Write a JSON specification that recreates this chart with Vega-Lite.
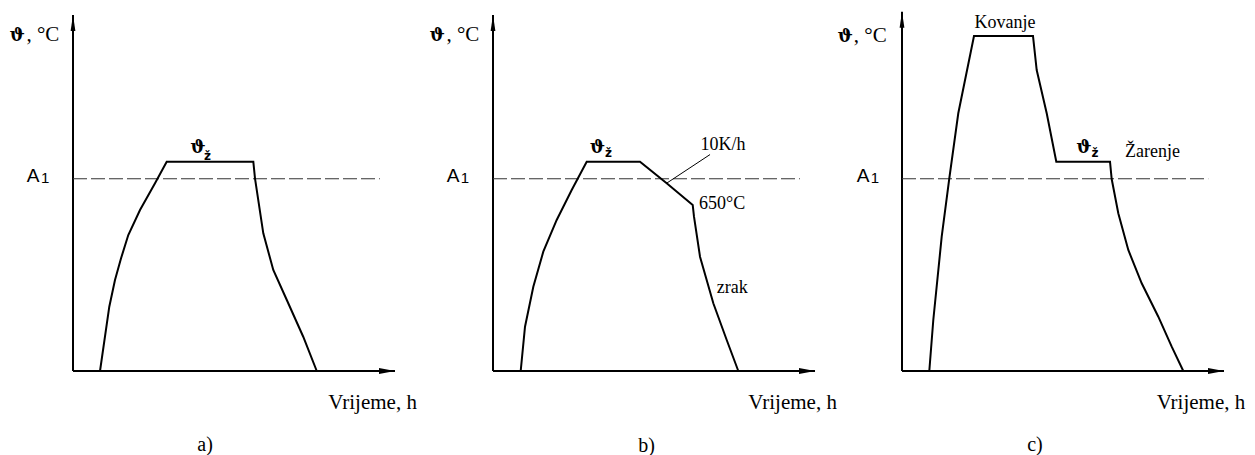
{
"$schema":"https://vega.github.io/schema/vega-lite/v6.json",
"background":"white",
"padding":{"left":9,"top":10,"right":0,"bottom":0},
"bounds":"flush",
"spacing":80,
"config":{"view":{"stroke":null}},
"resolve":{"scale":{"x":"independent","y":"independent","shape":"independent"}},
"datasets":{"rows":[
{"panel":"a","kind":"axis","t":0,"v":0,"t2":0,"v2":100},
{"panel":"a","kind":"axis","t":0,"v":0,"t2":100,"v2":0},
{"panel":"a","kind":"arrow","dir":"up","t":0,"v":100},
{"panel":"a","kind":"arrow","dir":"right","t":100,"v":0},
{"panel":"a","kind":"a1","t":0,"v":54,"t2":95.3,"v2":54},
{"panel":"a","kind":"curve","i":1,"t":8.39,"v":0},
{"panel":"a","kind":"curve","i":2,"t":11.27,"v":18.06},
{"panel":"a","kind":"curve","i":3,"t":13.04,"v":25.56},
{"panel":"a","kind":"curve","i":4,"t":14.9,"v":31.6},
{"panel":"a","kind":"curve","i":5,"t":17.17,"v":38.2},
{"panel":"a","kind":"curve","i":6,"t":20.81,"v":45.22},
{"panel":"a","kind":"curve","i":7,"t":25.47,"v":52.72},
{"panel":"a","kind":"curve","i":8,"t":29.1,"v":58.79},
{"panel":"a","kind":"curve","i":9,"t":56.0,"v":58.79},
{"panel":"a","kind":"curve","i":10,"t":56.52,"v":54.13},
{"panel":"a","kind":"curve","i":11,"t":59.1,"v":38.68},
{"panel":"a","kind":"curve","i":12,"t":62.2,"v":28.37},
{"panel":"a","kind":"curve","i":13,"t":66.4,"v":19.94},
{"panel":"a","kind":"curve","i":14,"t":71.5,"v":9.63},
{"panel":"a","kind":"curve","i":15,"t":75.7,"v":0},
{"panel":"a","kind":"unit","label":", °C","t":-4.25,"v":92.78},
{"panel":"a","kind":"theta","label":"ϑ","t":-15.0,"v":92.78},
{"panel":"a","kind":"A","label":"A","t":-14.38,"v":53.17},
{"panel":"a","kind":"Asub","label":"1","t":-9.9,"v":52.72},
{"panel":"a","kind":"thz","label":"ϑ","t":38.8,"v":61.24},
{"panel":"a","kind":"thzsub","label":"ž","t":41.77,"v":59.27},
{"panel":"a","kind":"xlab","label":"Vrijeme, h","t":79.3,"v":-10.7},
{"panel":"a","kind":"sub","label":"a)","t":41.0,"v":-20.8},
{"panel":"b","kind":"axis","t":0,"v":0,"t2":0,"v2":100},
{"panel":"b","kind":"axis","t":0,"v":0,"t2":100,"v2":0},
{"panel":"b","kind":"arrow","dir":"up","t":0,"v":100},
{"panel":"b","kind":"arrow","dir":"right","t":100,"v":0},
{"panel":"b","kind":"a1","t":0,"v":54,"t2":95.3,"v2":54},
{"panel":"b","kind":"leader","t":67.4,"v":60.8,"t2":54.0,"v2":52.8},
{"panel":"b","kind":"curve","i":1,"t":8.6,"v":0},
{"panel":"b","kind":"curve","i":2,"t":9.94,"v":12.44},
{"panel":"b","kind":"curve","i":3,"t":12.52,"v":23.68},
{"panel":"b","kind":"curve","i":4,"t":15.62,"v":33.51},
{"panel":"b","kind":"curve","i":5,"t":19.78,"v":42.42},
{"panel":"b","kind":"curve","i":6,"t":24.44,"v":50.84},
{"panel":"b","kind":"curve","i":7,"t":29.1,"v":58.79},
{"panel":"b","kind":"curve","i":8,"t":45.65,"v":58.79},
{"panel":"b","kind":"curve","i":9,"t":53.94,"v":52.72},
{"panel":"b","kind":"curve","i":10,"t":62.02,"v":46.63},
{"panel":"b","kind":"curve","i":11,"t":62.42,"v":43.34},
{"panel":"b","kind":"curve","i":12,"t":64.29,"v":32.11},
{"panel":"b","kind":"curve","i":13,"t":68.42,"v":19.02},
{"panel":"b","kind":"curve","i":14,"t":72.58,"v":8.71},
{"panel":"b","kind":"curve","i":15,"t":76.18,"v":0},
{"panel":"b","kind":"unit","label":", °C","t":-4.25,"v":92.78},
{"panel":"b","kind":"theta","label":"ϑ","t":-15.0,"v":92.78},
{"panel":"b","kind":"A","label":"A","t":-14.38,"v":53.17},
{"panel":"b","kind":"Asub","label":"1","t":-10.0,"v":52.72},
{"panel":"b","kind":"thz","label":"ϑ","t":32.45,"v":61.24},
{"panel":"b","kind":"thzsub","label":"ž","t":35.87,"v":60.11},
{"panel":"b","kind":"note","label":"10K/h","t":64.4,"v":62.1},
{"panel":"b","kind":"note","label":"650°C","t":64.0,"v":45.4},
{"panel":"b","kind":"note","label":"zrak","t":69.5,"v":21.8},
{"panel":"b","kind":"xlab","label":"Vrijeme, h","t":79.3,"v":-10.7},
{"panel":"b","kind":"sub","label":"b)","t":47.7,"v":-21.0},
{"panel":"c","kind":"axis","t":0,"v":0,"t2":0,"v2":100.9},
{"panel":"c","kind":"axis","t":0,"v":0,"t2":100,"v2":0},
{"panel":"c","kind":"arrow","dir":"up","t":0,"v":100.9},
{"panel":"c","kind":"arrow","dir":"right","t":100,"v":0},
{"panel":"c","kind":"a1","t":0,"v":54,"t2":95.1,"v2":54},
{"panel":"c","kind":"curve","i":1,"t":8.48,"v":0},
{"panel":"c","kind":"curve","i":2,"t":9.72,"v":14.33},
{"panel":"c","kind":"curve","i":3,"t":12.33,"v":37.72},
{"panel":"c","kind":"curve","i":4,"t":14.69,"v":54.13},
{"panel":"c","kind":"curve","i":5,"t":17.48,"v":72.39},
{"panel":"c","kind":"curve","i":6,"t":22.36,"v":94.1},
{"panel":"c","kind":"curve","i":7,"t":40.68,"v":94.1},
{"panel":"c","kind":"curve","i":8,"t":41.83,"v":84.55},
{"panel":"c","kind":"curve","i":9,"t":44.94,"v":72.39},
{"panel":"c","kind":"curve","i":10,"t":47.92,"v":58.79},
{"panel":"c","kind":"curve","i":11,"t":64.6,"v":58.79},
{"panel":"c","kind":"curve","i":12,"t":65.12,"v":53.93},
{"panel":"c","kind":"curve","i":13,"t":67.17,"v":44.3},
{"panel":"c","kind":"curve","i":14,"t":70.28,"v":33.99},
{"panel":"c","kind":"curve","i":15,"t":74.44,"v":24.63},
{"panel":"c","kind":"curve","i":16,"t":79.6,"v":15.25},
{"panel":"c","kind":"curve","i":17,"t":83.76,"v":6.83},
{"panel":"c","kind":"curve","i":18,"t":87.36,"v":0},
{"panel":"c","kind":"unit","label":", °C","t":-4.75,"v":92.5},
{"panel":"c","kind":"theta","label":"ϑ","t":-15.3,"v":92.5},
{"panel":"c","kind":"A","label":"A","t":-14.07,"v":53.17},
{"panel":"c","kind":"Asub","label":"1","t":-9.7,"v":52.72},
{"panel":"c","kind":"thz","label":"ϑ","t":56.52,"v":61.15},
{"panel":"c","kind":"thzsub","label":"ž","t":59.94,"v":60.1},
{"panel":"c","kind":"notec","label":"Kovanje","t":32.0,"v":96.3},
{"panel":"c","kind":"note","label":"Žarenje","t":69.25,"v":60.2},
{"panel":"c","kind":"xlab","label":"Vrijeme, h","t":79.1,"v":-10.7},
{"panel":"c","kind":"sub","label":"c)","t":41.3,"v":-20.8}
]},
"hconcat":[
{"width":340,"height":356,"data":{"name":"rows"},"transform":[{"filter":"datum.panel === 'a'"}],
"layer":[
{"transform":[{"filter":"datum.kind === 'axis'"}],"mark":{"type":"rule","color":"black","strokeWidth":2},
 "encoding":{"x":{"field":"t","type":"quantitative","scale":{"domain":[0,105.59],"nice":false,"zero":false},"axis":null},"y":{"field":"v","type":"quantitative","scale":{"domain":[0,100],"nice":false,"zero":false},"axis":null},"x2":{"field":"t2"},"y2":{"field":"v2"}}},
{"transform":[{"filter":"datum.kind === 'arrow'"}],"mark":{"type":"point","filled":true,"color":"black","size":64,"opacity":1,"strokeWidth":0},
 "encoding":{"x":{"field":"t","type":"quantitative","scale":{"domain":[0,105.59],"nice":false,"zero":false},"axis":null},"y":{"field":"v","type":"quantitative","scale":{"domain":[0,100],"nice":false,"zero":false},"axis":null},"shape":{"field":"dir","type":"nominal","scale":{"domain":["up","right"],"range":["M-0.6,4L0,0L0.6,4Z","M-4,-0.75L0,0L-4,0.75Z"]},"legend":null}}},
{"transform":[{"filter":"datum.kind === 'a1'"}],"mark":{"type":"rule","color":"#333333","strokeWidth":1,"strokeDash":[14,4]},
 "encoding":{"x":{"field":"t","type":"quantitative","scale":{"domain":[0,105.59],"nice":false,"zero":false},"axis":null},"y":{"field":"v","type":"quantitative","scale":{"domain":[0,100],"nice":false,"zero":false},"axis":null},"x2":{"field":"t2"},"y2":{"field":"v2"}}},
{"transform":[{"filter":"datum.kind === 'curve'"}],"mark":{"type":"line","color":"black","strokeWidth":2},
 "encoding":{"x":{"field":"t","type":"quantitative","scale":{"domain":[0,105.59],"nice":false,"zero":false},"axis":null},"y":{"field":"v","type":"quantitative","scale":{"domain":[0,100],"nice":false,"zero":false},"axis":null},"order":{"field":"i","type":"quantitative"}}},
{"transform":[{"filter":"datum.kind === 'unit'"}],"mark":{"type":"text","font":"Liberation Serif","fontSize":21,"align":"right","baseline":"alphabetic","color":"black"},
 "encoding":{"x":{"field":"t","type":"quantitative","scale":{"domain":[0,105.59],"nice":false,"zero":false},"axis":null},"y":{"field":"v","type":"quantitative","scale":{"domain":[0,100],"nice":false,"zero":false},"axis":null},"text":{"field":"label"}}},
{"transform":[{"filter":"datum.kind === 'theta'"}],"mark":{"type":"text","font":"DejaVu Serif","fontSize":18,"fontWeight":"bold","align":"right","baseline":"alphabetic","color":"black"},
 "encoding":{"x":{"field":"t","type":"quantitative","scale":{"domain":[0,105.59],"nice":false,"zero":false},"axis":null},"y":{"field":"v","type":"quantitative","scale":{"domain":[0,100],"nice":false,"zero":false},"axis":null},"text":{"field":"label"}}},
{"transform":[{"filter":"datum.kind === 'thz'"}],"mark":{"type":"text","font":"DejaVu Serif","fontSize":18,"fontWeight":"bold","align":"center","baseline":"alphabetic","color":"black"},
 "encoding":{"x":{"field":"t","type":"quantitative","scale":{"domain":[0,105.59],"nice":false,"zero":false},"axis":null},"y":{"field":"v","type":"quantitative","scale":{"domain":[0,100],"nice":false,"zero":false},"axis":null},"text":{"field":"label"}}},
{"transform":[{"filter":"datum.kind === 'thzsub'"}],"mark":{"type":"text","font":"DejaVu Sans","fontSize":12,"fontWeight":"bold","align":"center","baseline":"alphabetic","color":"black"},
 "encoding":{"x":{"field":"t","type":"quantitative","scale":{"domain":[0,105.59],"nice":false,"zero":false},"axis":null},"y":{"field":"v","type":"quantitative","scale":{"domain":[0,100],"nice":false,"zero":false},"axis":null},"text":{"field":"label"}}},
{"transform":[{"filter":"datum.kind === 'A'"}],"mark":{"type":"text","font":"Liberation Sans","fontSize":19,"align":"left","baseline":"alphabetic","color":"black"},
 "encoding":{"x":{"field":"t","type":"quantitative","scale":{"domain":[0,105.59],"nice":false,"zero":false},"axis":null},"y":{"field":"v","type":"quantitative","scale":{"domain":[0,100],"nice":false,"zero":false},"axis":null},"text":{"field":"label"}}},
{"transform":[{"filter":"datum.kind === 'Asub'"}],"mark":{"type":"text","font":"Liberation Sans","fontSize":15,"align":"left","baseline":"alphabetic","color":"black"},
 "encoding":{"x":{"field":"t","type":"quantitative","scale":{"domain":[0,105.59],"nice":false,"zero":false},"axis":null},"y":{"field":"v","type":"quantitative","scale":{"domain":[0,100],"nice":false,"zero":false},"axis":null},"text":{"field":"label"}}},
{"transform":[{"filter":"datum.kind === 'xlab'"}],"mark":{"type":"text","font":"Liberation Serif","fontSize":21,"align":"left","baseline":"alphabetic","color":"black"},
 "encoding":{"x":{"field":"t","type":"quantitative","scale":{"domain":[0,105.59],"nice":false,"zero":false},"axis":null},"y":{"field":"v","type":"quantitative","scale":{"domain":[0,100],"nice":false,"zero":false},"axis":null},"text":{"field":"label"}}},
{"transform":[{"filter":"datum.kind === 'sub'"}],"mark":{"type":"text","font":"Liberation Serif","fontSize":20,"align":"center","baseline":"middle","color":"black"},
 "encoding":{"x":{"field":"t","type":"quantitative","scale":{"domain":[0,105.59],"nice":false,"zero":false},"axis":null},"y":{"field":"v","type":"quantitative","scale":{"domain":[0,100],"nice":false,"zero":false},"axis":null},"text":{"field":"label"}}}
]},
{"width":329,"height":356,"data":{"name":"rows"},"transform":[{"filter":"datum.panel === 'b'"}],
"layer":[
{"transform":[{"filter":"datum.kind === 'axis'"}],"mark":{"type":"rule","color":"black","strokeWidth":2},
 "encoding":{"x":{"field":"t","type":"quantitative","scale":{"domain":[0,102.17],"nice":false,"zero":false},"axis":null},"y":{"field":"v","type":"quantitative","scale":{"domain":[0,100],"nice":false,"zero":false},"axis":null},"x2":{"field":"t2"},"y2":{"field":"v2"}}},
{"transform":[{"filter":"datum.kind === 'arrow'"}],"mark":{"type":"point","filled":true,"color":"black","size":64,"opacity":1,"strokeWidth":0},
 "encoding":{"x":{"field":"t","type":"quantitative","scale":{"domain":[0,102.17],"nice":false,"zero":false},"axis":null},"y":{"field":"v","type":"quantitative","scale":{"domain":[0,100],"nice":false,"zero":false},"axis":null},"shape":{"field":"dir","type":"nominal","scale":{"domain":["up","right"],"range":["M-0.6,4L0,0L0.6,4Z","M-4,-0.75L0,0L-4,0.75Z"]},"legend":null}}},
{"transform":[{"filter":"datum.kind === 'a1'"}],"mark":{"type":"rule","color":"#333333","strokeWidth":1,"strokeDash":[14,4]},
 "encoding":{"x":{"field":"t","type":"quantitative","scale":{"domain":[0,102.17],"nice":false,"zero":false},"axis":null},"y":{"field":"v","type":"quantitative","scale":{"domain":[0,100],"nice":false,"zero":false},"axis":null},"x2":{"field":"t2"},"y2":{"field":"v2"}}},
{"transform":[{"filter":"datum.kind === 'leader'"}],"mark":{"type":"rule","color":"black","strokeWidth":1},
 "encoding":{"x":{"field":"t","type":"quantitative","scale":{"domain":[0,102.17],"nice":false,"zero":false},"axis":null},"y":{"field":"v","type":"quantitative","scale":{"domain":[0,100],"nice":false,"zero":false},"axis":null},"x2":{"field":"t2"},"y2":{"field":"v2"}}},
{"transform":[{"filter":"datum.kind === 'curve'"}],"mark":{"type":"line","color":"black","strokeWidth":2},
 "encoding":{"x":{"field":"t","type":"quantitative","scale":{"domain":[0,102.17],"nice":false,"zero":false},"axis":null},"y":{"field":"v","type":"quantitative","scale":{"domain":[0,100],"nice":false,"zero":false},"axis":null},"order":{"field":"i","type":"quantitative"}}},
{"transform":[{"filter":"datum.kind === 'unit'"}],"mark":{"type":"text","font":"Liberation Serif","fontSize":21,"align":"right","baseline":"alphabetic","color":"black"},
 "encoding":{"x":{"field":"t","type":"quantitative","scale":{"domain":[0,102.17],"nice":false,"zero":false},"axis":null},"y":{"field":"v","type":"quantitative","scale":{"domain":[0,100],"nice":false,"zero":false},"axis":null},"text":{"field":"label"}}},
{"transform":[{"filter":"datum.kind === 'theta'"}],"mark":{"type":"text","font":"DejaVu Serif","fontSize":18,"fontWeight":"bold","align":"right","baseline":"alphabetic","color":"black"},
 "encoding":{"x":{"field":"t","type":"quantitative","scale":{"domain":[0,102.17],"nice":false,"zero":false},"axis":null},"y":{"field":"v","type":"quantitative","scale":{"domain":[0,100],"nice":false,"zero":false},"axis":null},"text":{"field":"label"}}},
{"transform":[{"filter":"datum.kind === 'thz'"}],"mark":{"type":"text","font":"DejaVu Serif","fontSize":18,"fontWeight":"bold","align":"center","baseline":"alphabetic","color":"black"},
 "encoding":{"x":{"field":"t","type":"quantitative","scale":{"domain":[0,102.17],"nice":false,"zero":false},"axis":null},"y":{"field":"v","type":"quantitative","scale":{"domain":[0,100],"nice":false,"zero":false},"axis":null},"text":{"field":"label"}}},
{"transform":[{"filter":"datum.kind === 'thzsub'"}],"mark":{"type":"text","font":"DejaVu Sans","fontSize":12,"fontWeight":"bold","align":"center","baseline":"alphabetic","color":"black"},
 "encoding":{"x":{"field":"t","type":"quantitative","scale":{"domain":[0,102.17],"nice":false,"zero":false},"axis":null},"y":{"field":"v","type":"quantitative","scale":{"domain":[0,100],"nice":false,"zero":false},"axis":null},"text":{"field":"label"}}},
{"transform":[{"filter":"datum.kind === 'A'"}],"mark":{"type":"text","font":"Liberation Sans","fontSize":19,"align":"left","baseline":"alphabetic","color":"black"},
 "encoding":{"x":{"field":"t","type":"quantitative","scale":{"domain":[0,102.17],"nice":false,"zero":false},"axis":null},"y":{"field":"v","type":"quantitative","scale":{"domain":[0,100],"nice":false,"zero":false},"axis":null},"text":{"field":"label"}}},
{"transform":[{"filter":"datum.kind === 'Asub'"}],"mark":{"type":"text","font":"Liberation Sans","fontSize":15,"align":"left","baseline":"alphabetic","color":"black"},
 "encoding":{"x":{"field":"t","type":"quantitative","scale":{"domain":[0,102.17],"nice":false,"zero":false},"axis":null},"y":{"field":"v","type":"quantitative","scale":{"domain":[0,100],"nice":false,"zero":false},"axis":null},"text":{"field":"label"}}},
{"transform":[{"filter":"datum.kind === 'note'"}],"mark":{"type":"text","font":"Liberation Serif","fontSize":18,"align":"left","baseline":"alphabetic","color":"black"},
 "encoding":{"x":{"field":"t","type":"quantitative","scale":{"domain":[0,102.17],"nice":false,"zero":false},"axis":null},"y":{"field":"v","type":"quantitative","scale":{"domain":[0,100],"nice":false,"zero":false},"axis":null},"text":{"field":"label"}}},
{"transform":[{"filter":"datum.kind === 'xlab'"}],"mark":{"type":"text","font":"Liberation Serif","fontSize":21,"align":"left","baseline":"alphabetic","color":"black"},
 "encoding":{"x":{"field":"t","type":"quantitative","scale":{"domain":[0,102.17],"nice":false,"zero":false},"axis":null},"y":{"field":"v","type":"quantitative","scale":{"domain":[0,100],"nice":false,"zero":false},"axis":null},"text":{"field":"label"}}},
{"transform":[{"filter":"datum.kind === 'sub'"}],"mark":{"type":"text","font":"Liberation Serif","fontSize":20,"align":"center","baseline":"middle","color":"black"},
 "encoding":{"x":{"field":"t","type":"quantitative","scale":{"domain":[0,102.17],"nice":false,"zero":false},"axis":null},"y":{"field":"v","type":"quantitative","scale":{"domain":[0,100],"nice":false,"zero":false},"axis":null},"text":{"field":"label"}}}
]},
{"width":340,"height":356,"data":{"name":"rows"},"transform":[{"filter":"datum.panel === 'c'"}],
"layer":[
{"transform":[{"filter":"datum.kind === 'axis'"}],"mark":{"type":"rule","color":"black","strokeWidth":2},
 "encoding":{"x":{"field":"t","type":"quantitative","scale":{"domain":[0,105.59],"nice":false,"zero":false},"axis":null},"y":{"field":"v","type":"quantitative","scale":{"domain":[0,100],"nice":false,"zero":false},"axis":null},"x2":{"field":"t2"},"y2":{"field":"v2"}}},
{"transform":[{"filter":"datum.kind === 'arrow'"}],"mark":{"type":"point","filled":true,"color":"black","size":64,"opacity":1,"strokeWidth":0},
 "encoding":{"x":{"field":"t","type":"quantitative","scale":{"domain":[0,105.59],"nice":false,"zero":false},"axis":null},"y":{"field":"v","type":"quantitative","scale":{"domain":[0,100],"nice":false,"zero":false},"axis":null},"shape":{"field":"dir","type":"nominal","scale":{"domain":["up","right"],"range":["M-0.6,4L0,0L0.6,4Z","M-4,-0.75L0,0L-4,0.75Z"]},"legend":null}}},
{"transform":[{"filter":"datum.kind === 'a1'"}],"mark":{"type":"rule","color":"#333333","strokeWidth":1,"strokeDash":[14,4]},
 "encoding":{"x":{"field":"t","type":"quantitative","scale":{"domain":[0,105.59],"nice":false,"zero":false},"axis":null},"y":{"field":"v","type":"quantitative","scale":{"domain":[0,100],"nice":false,"zero":false},"axis":null},"x2":{"field":"t2"},"y2":{"field":"v2"}}},
{"transform":[{"filter":"datum.kind === 'curve'"}],"mark":{"type":"line","color":"black","strokeWidth":2},
 "encoding":{"x":{"field":"t","type":"quantitative","scale":{"domain":[0,105.59],"nice":false,"zero":false},"axis":null},"y":{"field":"v","type":"quantitative","scale":{"domain":[0,100],"nice":false,"zero":false},"axis":null},"order":{"field":"i","type":"quantitative"}}},
{"transform":[{"filter":"datum.kind === 'unit'"}],"mark":{"type":"text","font":"Liberation Serif","fontSize":21,"align":"right","baseline":"alphabetic","color":"black"},
 "encoding":{"x":{"field":"t","type":"quantitative","scale":{"domain":[0,105.59],"nice":false,"zero":false},"axis":null},"y":{"field":"v","type":"quantitative","scale":{"domain":[0,100],"nice":false,"zero":false},"axis":null},"text":{"field":"label"}}},
{"transform":[{"filter":"datum.kind === 'theta'"}],"mark":{"type":"text","font":"DejaVu Serif","fontSize":18,"fontWeight":"bold","align":"right","baseline":"alphabetic","color":"black"},
 "encoding":{"x":{"field":"t","type":"quantitative","scale":{"domain":[0,105.59],"nice":false,"zero":false},"axis":null},"y":{"field":"v","type":"quantitative","scale":{"domain":[0,100],"nice":false,"zero":false},"axis":null},"text":{"field":"label"}}},
{"transform":[{"filter":"datum.kind === 'thz'"}],"mark":{"type":"text","font":"DejaVu Serif","fontSize":18,"fontWeight":"bold","align":"center","baseline":"alphabetic","color":"black"},
 "encoding":{"x":{"field":"t","type":"quantitative","scale":{"domain":[0,105.59],"nice":false,"zero":false},"axis":null},"y":{"field":"v","type":"quantitative","scale":{"domain":[0,100],"nice":false,"zero":false},"axis":null},"text":{"field":"label"}}},
{"transform":[{"filter":"datum.kind === 'thzsub'"}],"mark":{"type":"text","font":"DejaVu Sans","fontSize":12,"fontWeight":"bold","align":"center","baseline":"alphabetic","color":"black"},
 "encoding":{"x":{"field":"t","type":"quantitative","scale":{"domain":[0,105.59],"nice":false,"zero":false},"axis":null},"y":{"field":"v","type":"quantitative","scale":{"domain":[0,100],"nice":false,"zero":false},"axis":null},"text":{"field":"label"}}},
{"transform":[{"filter":"datum.kind === 'A'"}],"mark":{"type":"text","font":"Liberation Sans","fontSize":19,"align":"left","baseline":"alphabetic","color":"black"},
 "encoding":{"x":{"field":"t","type":"quantitative","scale":{"domain":[0,105.59],"nice":false,"zero":false},"axis":null},"y":{"field":"v","type":"quantitative","scale":{"domain":[0,100],"nice":false,"zero":false},"axis":null},"text":{"field":"label"}}},
{"transform":[{"filter":"datum.kind === 'Asub'"}],"mark":{"type":"text","font":"Liberation Sans","fontSize":15,"align":"left","baseline":"alphabetic","color":"black"},
 "encoding":{"x":{"field":"t","type":"quantitative","scale":{"domain":[0,105.59],"nice":false,"zero":false},"axis":null},"y":{"field":"v","type":"quantitative","scale":{"domain":[0,100],"nice":false,"zero":false},"axis":null},"text":{"field":"label"}}},
{"transform":[{"filter":"datum.kind === 'note'"}],"mark":{"type":"text","font":"Liberation Serif","fontSize":18,"align":"left","baseline":"alphabetic","color":"black"},
 "encoding":{"x":{"field":"t","type":"quantitative","scale":{"domain":[0,105.59],"nice":false,"zero":false},"axis":null},"y":{"field":"v","type":"quantitative","scale":{"domain":[0,100],"nice":false,"zero":false},"axis":null},"text":{"field":"label"}}},
{"transform":[{"filter":"datum.kind === 'notec'"}],"mark":{"type":"text","font":"Liberation Serif","fontSize":18,"align":"center","baseline":"alphabetic","color":"black"},
 "encoding":{"x":{"field":"t","type":"quantitative","scale":{"domain":[0,105.59],"nice":false,"zero":false},"axis":null},"y":{"field":"v","type":"quantitative","scale":{"domain":[0,100],"nice":false,"zero":false},"axis":null},"text":{"field":"label"}}},
{"transform":[{"filter":"datum.kind === 'xlab'"}],"mark":{"type":"text","font":"Liberation Serif","fontSize":21,"align":"left","baseline":"alphabetic","color":"black"},
 "encoding":{"x":{"field":"t","type":"quantitative","scale":{"domain":[0,105.59],"nice":false,"zero":false},"axis":null},"y":{"field":"v","type":"quantitative","scale":{"domain":[0,100],"nice":false,"zero":false},"axis":null},"text":{"field":"label"}}},
{"transform":[{"filter":"datum.kind === 'sub'"}],"mark":{"type":"text","font":"Liberation Serif","fontSize":20,"align":"center","baseline":"middle","color":"black"},
 "encoding":{"x":{"field":"t","type":"quantitative","scale":{"domain":[0,105.59],"nice":false,"zero":false},"axis":null},"y":{"field":"v","type":"quantitative","scale":{"domain":[0,100],"nice":false,"zero":false},"axis":null},"text":{"field":"label"}}}
]}
]
}
